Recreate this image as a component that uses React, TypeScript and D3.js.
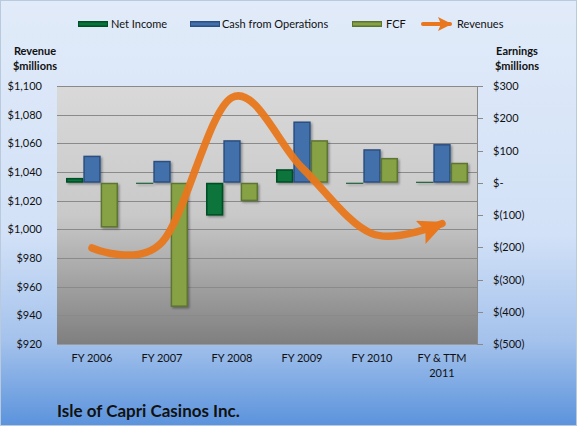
import { useEffect, useRef } from "react";
import * as d3 from "d3";

// chart data
const categories = ["FY 2006", "FY 2007", "FY 2008", "FY 2009", "FY 2010", "FY & TTM\n2011"];
const netIncome = [15, -2, -102, 42, -2, 3];
const cashOps = [84, 68, 132, 190, 104, 120];
const fcf = [-139, -385, -57, 132, 77, 62];
const revenues = [987, 991, 1092, 1043, 997, 1004];

const revenueTicks = [920, 940, 960, 980, 1000, 1020, 1040, 1060, 1080, 1100];
const earningsTicks = [-500, -400, -300, -200, -100, 0, 100, 200, 300];

const seriesNames = ["Net Income", "Cash from Operations", "FCF"];
const seriesFill = ["#08743b", "#4270aa", "#86a244"];
const seriesEdge = ["#034d25", "#2b4f80", "#5c7430"];
const lineColor = "#e8771e";

const FONT = "Lato, 'Open Sans', sans-serif";

const App = () => {
  const svgRef = useRef<SVGSVGElement>(null);

  useEffect(() => {
    const W = 577;
    const H = 427;
    const plot = { left: 57, right: 477, top: 86, bottom: 344 };

    d3.select(svgRef.current).selectAll("*").remove();
    const svg = d3.select(svgRef.current).attr("width", W).attr("height", H);

    const defs = svg.append("defs");
    const bg = defs
      .append("linearGradient")
      .attr("id", "bg")
      .attr("x1", 0)
      .attr("y1", 0)
      .attr("x2", 0)
      .attr("y2", 1);
    bg.append("stop").attr("offset", "0%").attr("stop-color", "#e1ebf9");
    bg.append("stop").attr("offset", "55%").attr("stop-color", "#d2e1f7");
    bg.append("stop").attr("offset", "80%").attr("stop-color", "#a4c2ec");
    bg.append("stop").attr("offset", "100%").attr("stop-color", "#5b93dc");

    const pg = defs
      .append("linearGradient")
      .attr("id", "plotbg")
      .attr("x1", 0)
      .attr("y1", 0)
      .attr("x2", 0)
      .attr("y2", 1);
    pg.append("stop").attr("offset", "0%").attr("stop-color", "#d9d9d9");
    pg.append("stop").attr("offset", "50%").attr("stop-color", "#c9c9c9");
    pg.append("stop").attr("offset", "100%").attr("stop-color", "#7f7f7f");

    const shadow = defs.append("filter").attr("id", "shadow").attr("x", "-20%").attr("y", "-20%").attr("width", "150%").attr("height", "150%");
    shadow
      .append("feDropShadow")
      .attr("dx", 1.5)
      .attr("dy", 1.5)
      .attr("stdDeviation", 1)
      .attr("flood-color", "#000")
      .attr("flood-opacity", 0.35);

    defs
      .append("marker")
      .attr("id", "arrow")
      .attr("markerUnits", "userSpaceOnUse")
      .attr("viewBox", "0 0 27 25")
      .attr("markerWidth", 27)
      .attr("markerHeight", 25)
      .attr("refX", 23)
      .attr("refY", 12.5)
      .attr("orient", "auto")
      .append("path")
      .attr("d", "M0,0 L27,12.5 L0,25 L5,12.5 Z")
      .attr("fill", lineColor);

    defs
      .append("marker")
      .attr("id", "arrowSmall")
      .attr("markerUnits", "userSpaceOnUse")
      .attr("viewBox", "0 0 14 14")
      .attr("markerWidth", 14)
      .attr("markerHeight", 14)
      .attr("refX", 12)
      .attr("refY", 7)
      .attr("orient", "auto")
      .append("path")
      .attr("d", "M0,0 L14,7 L0,14 L3,7 Z")
      .attr("fill", lineColor);

    // background
    svg
      .append("rect")
      .attr("x", 0.5)
      .attr("y", 0.5)
      .attr("width", W - 1)
      .attr("height", H - 2)
      .attr("fill", "url(#bg)")
      .attr("stroke", "#b9c9de");

    // scales
    const x = d3.scaleBand().domain(categories).range([plot.left, plot.right]);
    const groupW = 52;
    const x1 = d3
      .scaleBand()
      .domain(seriesNames)
      .range([(x.bandwidth() - groupW) / 2, (x.bandwidth() + groupW) / 2]);
    const yRev = d3.scaleLinear().domain([920, 1100]).range([plot.bottom, plot.top]);
    const yEarn = d3.scaleLinear().domain([-500, 300]).range([plot.bottom, plot.top]);

    // plot area
    svg
      .append("rect")
      .attr("x", plot.left)
      .attr("y", plot.top)
      .attr("width", plot.right - plot.left)
      .attr("height", plot.bottom - plot.top)
      .attr("fill", "url(#plotbg)");

    // gridlines for left axis
    svg
      .append("g")
      .selectAll("line")
      .data(revenueTicks.slice(1))
      .enter()
      .append("line")
      .attr("x1", plot.left)
      .attr("x2", plot.right)
      .attr("y1", (d) => Math.round(yRev(d)) + 0.5)
      .attr("y2", (d) => Math.round(yRev(d)) + 0.5)
      .attr("stroke", "#8a8a8a")
      .attr("stroke-width", 1);

    // bottom axis line
    svg
      .append("line")
      .attr("x1", plot.left)
      .attr("x2", plot.right)
      .attr("y1", plot.bottom + 0.5)
      .attr("y2", plot.bottom + 0.5)
      .attr("stroke", "#9a9a9a");

    // right axis line + ticks
    svg
      .append("line")
      .attr("x1", plot.right + 0.5)
      .attr("x2", plot.right + 0.5)
      .attr("y1", plot.top)
      .attr("y2", plot.bottom)
      .attr("stroke", "#8a8a8a");
    svg
      .append("g")
      .selectAll("line")
      .data(earningsTicks)
      .enter()
      .append("line")
      .attr("x1", plot.right)
      .attr("x2", plot.right + 6)
      .attr("y1", (d) => Math.round(yEarn(d)) + 0.5)
      .attr("y2", (d) => Math.round(yEarn(d)) + 0.5)
      .attr("stroke", "#8a8a8a");

    // left tick labels
    svg
      .append("g")
      .selectAll("text")
      .data(revenueTicks)
      .enter()
      .append("text")
      .attr("x", 42)
      .attr("y", (d) => yRev(d) + 4)
      .attr("text-anchor", "end")
      .attr("font-family", FONT)
      .attr("font-size", 11)
      .attr("fill", "#111")
      .text((d) => "$" + d3.format(",")(d));

    // right tick labels
    svg
      .append("g")
      .selectAll("text")
      .data(earningsTicks)
      .enter()
      .append("text")
      .attr("x", 493)
      .attr("y", (d) => yEarn(d) + 4)
      .attr("font-family", FONT)
      .attr("font-size", 11)
      .attr("fill", "#111")
      .text((d) => (d === 0 ? "$-" : d < 0 ? `$(${-d})` : `$${d}`));

    // x labels
    const xl = svg
      .append("g")
      .selectAll("text")
      .data(categories)
      .enter()
      .append("text")
      .attr("x", (d) => x(d)! + x.bandwidth() / 2)
      .attr("y", 362)
      .attr("text-anchor", "middle")
      .attr("font-family", FONT)
      .attr("font-size", 11)
      .attr("fill", "#111");
    xl.selectAll("tspan")
      .data((d) => d.split("\n"))
      .enter()
      .append("tspan")
      .attr("x", function () {
        return (this as SVGTSpanElement).parentElement!.getAttribute("x");
      })
      .attr("dy", (_d, i) => (i === 0 ? 0 : 15))
      .text((d) => d);

    // bars
    const seriesData = [netIncome, cashOps, fcf];
    const zero = yEarn(0);
    seriesData.forEach((vals, si) => {
      const g = svg.append("g").attr("filter", "url(#shadow)");
      const bx = (i: number) => x(categories[i])! + x1(seriesNames[si])!;
      const by = (v: number) => Math.min(yEarn(v), zero);
      const bh = (v: number) => Math.max(Math.abs(yEarn(v) - zero), 1);
      vals.forEach((v, i) => {
        g.append("rect")
          .attr("x", bx(i))
          .attr("y", by(v))
          .attr("width", x1.bandwidth())
          .attr("height", bh(v))
          .attr("fill", seriesEdge[si]);
        if (bh(v) > 4) {
          g.append("rect")
            .attr("x", bx(i) + 1.5)
            .attr("y", by(v) + 1.5)
            .attr("width", x1.bandwidth() - 3)
            .attr("height", bh(v) - 3)
            .attr("fill", seriesFill[si]);
        }
      });
    });

    // revenue line
    const line = d3
      .line<number>()
      .x((_d, i) => x(categories[i])! + x.bandwidth() / 2)
      .y((d) => yRev(d))
      .curve(d3.curveCardinal.tension(0));

    svg
      .append("path")
      .datum(revenues)
      .attr("fill", "none")
      .attr("stroke", lineColor)
      .attr("stroke-width", 7.5)
      .attr("stroke-linecap", "round")
      .attr("stroke-opacity", 0.95)
      .attr("marker-end", "url(#arrow)")
      .attr("d", line);

    // legend
    const legend = svg.append("g").attr("font-family", FONT).attr("font-size", 11).attr("fill", "#111");
    const swatchX = [78, 190, 352];
    const textX = [111, 222, 386];
    seriesNames.forEach((name, i) => {
      legend
        .append("rect")
        .attr("x", swatchX[i])
        .attr("y", 21)
        .attr("width", 30)
        .attr("height", 6)
        .attr("fill", seriesEdge[i]);
      legend
        .append("rect")
        .attr("x", swatchX[i] + 1)
        .attr("y", 22.5)
        .attr("width", 28)
        .attr("height", 3)
        .attr("fill", seriesFill[i]);
      legend.append("text").attr("x", textX[i]).attr("y", 28).text(name);
    });
    legend
      .append("line")
      .attr("x1", 423)
      .attr("x2", 450)
      .attr("y1", 24)
      .attr("y2", 24)
      .attr("stroke", lineColor)
      .attr("stroke-width", 4)
      .attr("stroke-linecap", "round")
      .attr("marker-end", "url(#arrowSmall)");
    legend.append("text").attr("x", 457).attr("y", 28).text("Revenues");

    // axis titles
    const titles = svg
      .append("g")
      .attr("font-family", FONT)
      .attr("font-size", 11)
      .attr("font-weight", "bold")
      .attr("fill", "#111")
      .attr("text-anchor", "middle");
    titles.append("text").attr("x", 35).attr("y", 55).text("Revenue");
    titles.append("text").attr("x", 35).attr("y", 70).text("$millions");
    titles.append("text").attr("x", 517).attr("y", 55).text("Earnings");
    titles.append("text").attr("x", 517).attr("y", 70).text("$millions");

    // chart title
    svg
      .append("text")
      .attr("x", 57)
      .attr("y", 417)
      .attr("font-family", FONT)
      .attr("font-size", 17)
      .attr("font-weight", "bold")
      .attr("fill", "#111")
      .text("Isle of Capri Casinos Inc.");
  }, []);

  return <svg ref={svgRef} style={{ position: "absolute", left: 0, top: 0 }}></svg>;
};

export default App;
